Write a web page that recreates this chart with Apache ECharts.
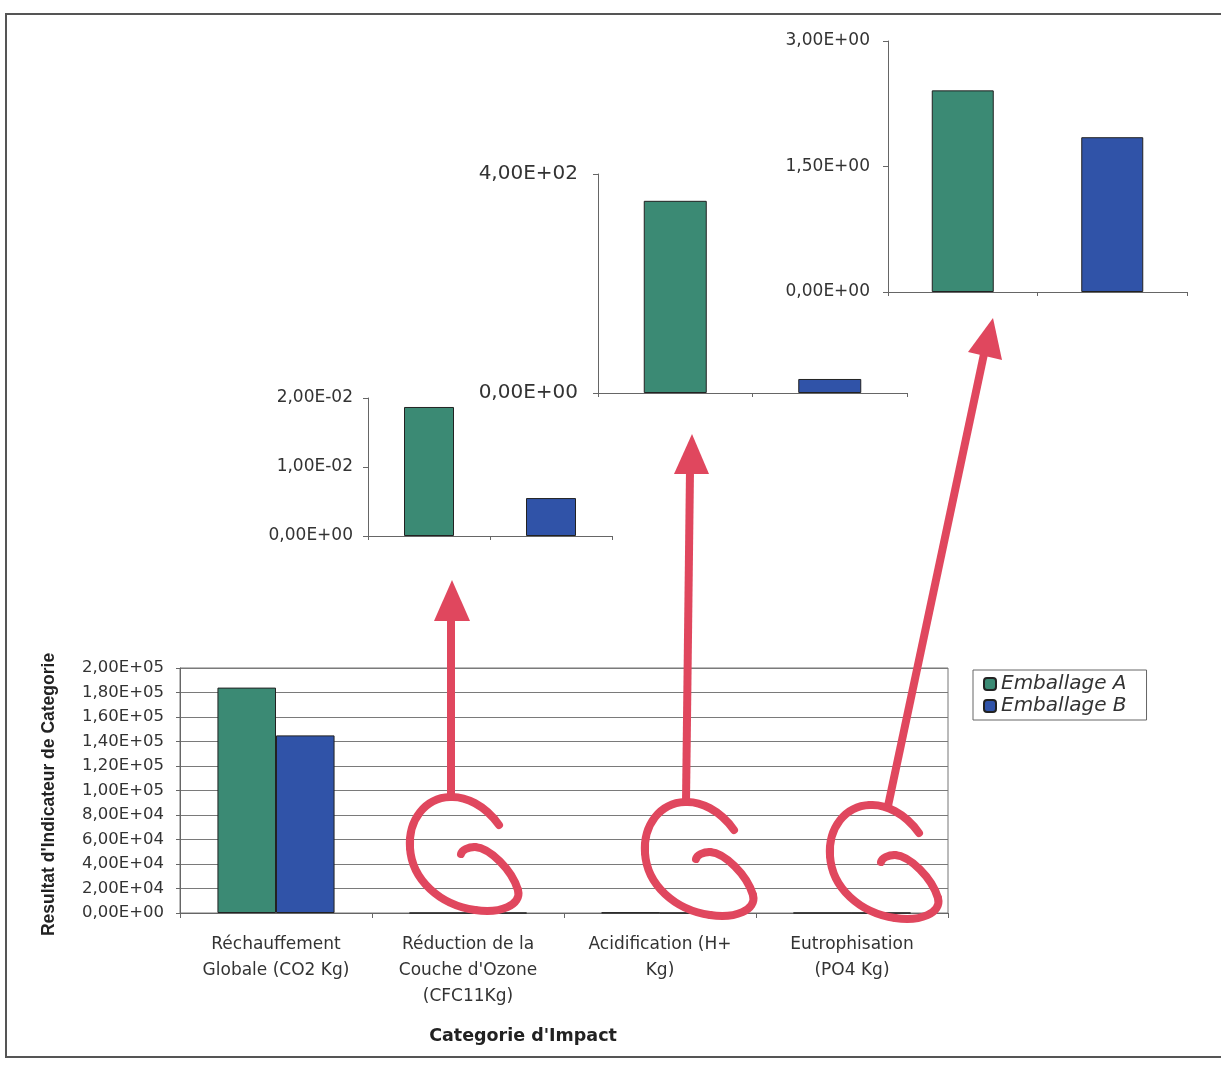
<!DOCTYPE html>
<html>
<head>
<meta charset="utf-8">
<script src="https://cdn.jsdelivr.net/npm/echarts@6/dist/echarts.min.js"></script>
<style>html,body{margin:0;padding:0;background:#fff}#c{width:1221px;height:1069px}</style>
</head>
<body>
<div id="c"></div>
<script>
// ---- data ----
const categories = ['Réchauffement\nGlobale (CO2 Kg)', 'Réduction de la\nCouche d\'Ozone\n(CFC11Kg)', 'Acidification (H+\nKg)', 'Eutrophisation\n(PO4 Kg)'];
const seriesNames = ['Emballage A', 'Emballage B'];
const emballageA = [184000, 0.0187, 351, 2.41];
const emballageB = [145000, 0.0055, 25.6, 1.85];
const mainAxis = {min: 0, max: 200000, interval: 20000};
const insetAxes = [
  {cat: 1, min: 0, max: 0.02, interval: 0.01},
  {cat: 2, min: 0, max: 400, interval: 400},
  {cat: 3, min: 0, max: 3, interval: 1.5}
];
const axisTitleY = 'Resultat d\'Indicateur de Categorie';
const axisTitleX = 'Categorie d\'Impact';

// ---- styling ----
const GREEN = '#3b8a74', BLUE = '#3053a8', RED = '#e0475e';
function sci(v) {
  if (v === 0) return '0,00E+00';
  const s = Number(v).toExponential(2).split('e');
  const n = parseInt(s[1], 10);
  return s[0].replace('.', ',') + 'E' + (n < 0 ? '-' : '+') + String(Math.abs(n)).padStart(2, '0');
}
const FONT = 'DejaVu Sans';
const grids = [
  {left: 180, top: 668, width: 768, height: 245, show: true, borderColor: '#777', borderWidth: 1},
  {left: 368, top: 398, width: 244, height: 138},
  {left: 598, top: 174, width: 309, height: 219},
  {left: 888, top: 41, width: 299, height: 251}
];
const insetFont = [17, 20, 17];
const insetMargin = [15, 20, 18];
const insetBarW = [50, 63, 62];

const xAxes = [{
  type: 'category', gridIndex: 0, data: categories,
  axisLine: {lineStyle: {color: '#666'}},
  axisTick: {show: true, length: 5, lineStyle: {color: '#666'}},
  axisLabel: {color: '#333', fontFamily: FONT, fontSize: 17, lineHeight: 26, margin: 19, interval: 0},
  name: axisTitleX, nameLocation: 'middle', nameGap: 114,
  nameTextStyle: {fontFamily: FONT, fontWeight: 'bold', fontSize: 17.5, color: '#222', padding: [0, 82, 0, 0]}
}];
const yAxes = [{
  type: 'value', gridIndex: 0, min: mainAxis.min, max: mainAxis.max, interval: mainAxis.interval,
  axisLine: {show: true, lineStyle: {color: '#666'}},
  axisTick: {show: true, length: 4, lineStyle: {color: '#666'}},
  splitLine: {lineStyle: {color: '#7a7a7a', width: 1}},
  axisLabel: {formatter: sci, color: '#333', fontFamily: FONT, fontSize: 16.5, margin: 16},
  name: axisTitleY, nameLocation: 'middle', nameGap: 122, nameRotate: 90,
  nameTextStyle: {fontFamily: 'Liberation Sans', fontWeight: 'bold', fontSize: 17.5, color: '#222', padding: [0, 8, 0, 0]}
}];
const series = [
  {name: seriesNames[0], type: 'bar', xAxisIndex: 0, yAxisIndex: 0, data: emballageA, barGap: '0%', barCategoryGap: '39%',
   itemStyle: {color: GREEN, borderColor: '#222', borderWidth: 1}},
  {name: seriesNames[1], type: 'bar', xAxisIndex: 0, yAxisIndex: 0, data: emballageB, barGap: '0%', barCategoryGap: '39%',
   itemStyle: {color: BLUE, borderColor: '#222', borderWidth: 1}}
];
insetAxes.forEach((ax, i) => {
  const g = i + 1;
  xAxes.push({
    type: 'category', gridIndex: g, data: seriesNames,
    axisLine: {lineStyle: {color: '#666'}},
    axisTick: {show: true, length: 4, lineStyle: {color: '#666'}},
    axisLabel: {show: false}
  });
  yAxes.push({
    type: 'value', gridIndex: g, min: ax.min, max: ax.max, interval: ax.interval,
    axisLine: {show: true, lineStyle: {color: '#666'}},
    axisTick: {show: true, length: 5, lineStyle: {color: '#666'}},
    splitLine: {show: false},
    axisLabel: {formatter: sci, color: '#333', fontFamily: FONT, fontSize: insetFont[i], margin: insetMargin[i]}
  });
  series.push(
    {name: seriesNames[0], type: 'bar', xAxisIndex: g, yAxisIndex: g, stack: 'inset' + g, barWidth: insetBarW[i],
     data: [emballageA[ax.cat], '-'], itemStyle: {color: GREEN, borderColor: '#222', borderWidth: 1}},
    {name: seriesNames[1], type: 'bar', xAxisIndex: g, yAxisIndex: g, stack: 'inset' + g, barWidth: insetBarW[i],
     data: ['-', emballageB[ax.cat]], itemStyle: {color: BLUE, borderColor: '#222', borderWidth: 1}}
  );
});

// ---- hand-drawn annotations (cubic segments of the "G" loops, relative to their top point) ----
const gSegs = [
  [49, 28, 35, 8, 15, -1, 0, 0],
  [0, 0, -25, 1, -42, 23, -40, 51],
  [-40, 51, -38, 83, -10, 108, 25, 113],
  [25, 113, 50, 117, 72, 108, 68, 93],
  [68, 93, 62, 73, 40, 51, 25, 50],
  [25, 50, 18, 50, 12, 53, 11, 57]
];
const redStroke = {stroke: RED, lineWidth: 8, fill: null, lineCap: 'round', lineJoin: 'round'};
function G(x, y) {
  return gSegs.map(s => ({
    type: 'bezierCurve', z: 100,
    shape: {x1: x + s[0], y1: y + s[1], cpx1: x + s[2], cpy1: y + s[3], cpx2: x + s[4], cpy2: y + s[5], x2: x + s[6], y2: y + s[7]},
    style: redStroke
  }));
}
function arrow(x1, y1, x2, y2, tip, b1, b2) {
  return [
    {type: 'line', z: 100, shape: {x1: x1, y1: y1, x2: x2, y2: y2}, style: {stroke: RED, lineWidth: 8}},
    {type: 'polygon', z: 100, shape: {points: [tip, b1, b2]}, style: {fill: RED}}
  ];
}
const graphic = [
  {type: 'rect', z: 0, shape: {x: 6, y: 14, width: 1230, height: 1043}, style: {fill: null, stroke: '#555', lineWidth: 2}}
].concat(
  G(450, 797), G(685, 802), G(870, 805),
  arrow(451, 797, 451, 618, [452, 580], [434, 621], [470, 621]),
  arrow(686, 802, 690, 470, [692, 434], [674, 474], [709, 474]),
  arrow(888, 806, 984, 354, [993, 318], [968, 352], [1002, 360])
);

const chart = echarts.init(document.getElementById('c'), null, {renderer: 'canvas'});
chart.setOption({
  backgroundColor: '#ffffff',
  animation: false,
  grid: grids,
  xAxis: xAxes,
  yAxis: yAxes,
  series: series,
  legend: {
    data: seriesNames, orient: 'vertical', left: 973, top: 670,
    borderColor: '#666', borderWidth: 1, padding: [4, 20, 4, 10],
    itemWidth: 12, itemHeight: 12, itemGap: 2,
    textStyle: {fontFamily: FONT, fontStyle: 'italic', fontSize: 20, color: '#333'}
  },
  graphic: graphic
});
</script>
</body>
</html>
